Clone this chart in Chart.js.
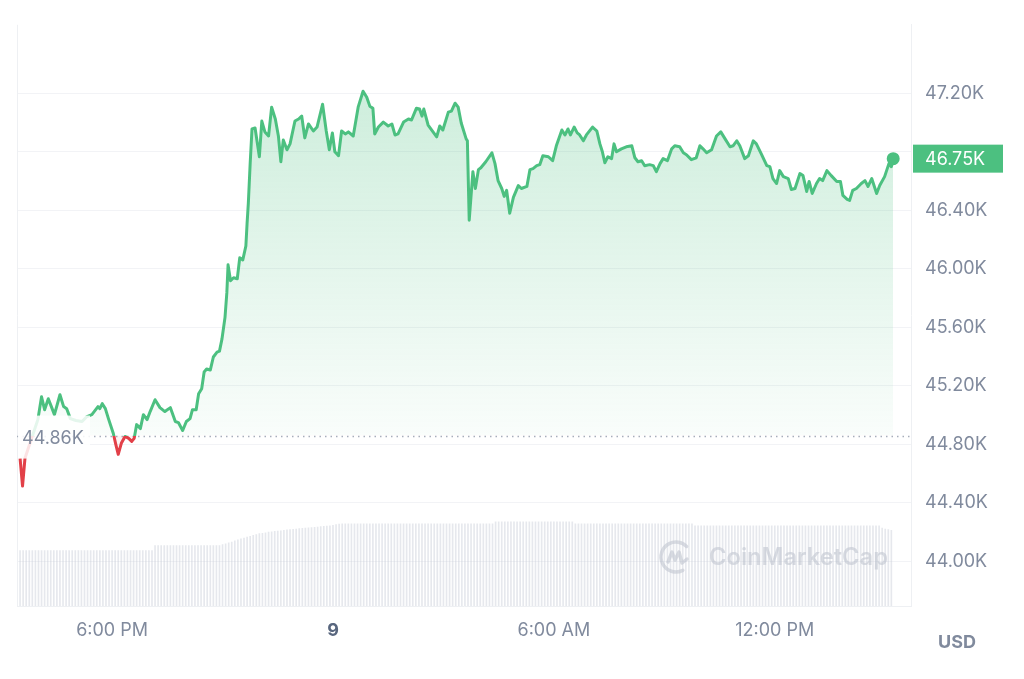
<!DOCTYPE html>
<html><head><meta charset="utf-8">
<script src="https://cdn.jsdelivr.net/npm/chart.js@4.4.1/dist/chart.umd.min.js"></script>
<style>html,body{margin:0;padding:0;background:#fff;overflow:hidden}canvas{display:block}</style>
</head><body>
<canvas id="c" width="1024" height="679"></canvas>
<script>
// time in minutes after 00:00 of the 8th (so 1440 = start of the 9th)
const priceTimes = [
930,934,938,959,965,970,976,981,986,995,
1001,1006,1012,1021,1031,1039,1047,1057,1060,1064,
1069,1074,1082,1086,1090,1095,1101,1107,1112,1116,
1120,1126,1131,1137,1142,1150,1158,1166,1175,1183,
1188,1195,1201,1207,1211,1217,1221,1226,1230,1234,
1240,1245,1251,1255,1259,1264,1267,1269,1273,1278,
1284,1288,1293,1298,1300,1302,1305,1308,1313,1320,
1324,1329,1335,1340,1346,1351,1355,1359,1365,1370,
1378,1384,1389,1394,1400,1408,1414,1423,1429,1434,
1439,1443,1449,1454,1460,1465,1473,1481,1489,1495,
1500,1505,1508,1514,1522,1530,1536,1541,1546,1555,
1563,1568,1576,1581,1585,1588,1595,1603,1609,1614,
1619,1628,1633,1639,1644,1649,1657,1659,1662,1668,
1672,1677,1681,1689,1699,1704,1709,1715,1719,1723,
1728,1734,1742,1747,1756,1761,1766,1772,1777,1782,
1791,1798,1804,1813,1818,1823,1827,1833,1838,1842,
1848,1853,1863,1870,1875,1879,1883,1888,1894,1898,
1902,1910,1918,1927,1932,1937,1943,1948,1956,1962,
1967,1973,1978,1985,1992,1997,2005,2011,2016,2024,
2032,2038,2043,2049,2057,2065,2072,2079,2087,2092,
2098,2103,2111,2117,2125,2130,2138,2147,2152,2157,
2163,2168,2174,2182,2187,2193,2201,2206,2212,2216,
2221,2228,2233,2238,2245,2252,2261,2267,2271,2278,
2282,2287,2293,2301,2307,2312,2318,2326,2331,2339,
2346,2350,2353];

// price in USD
const prices = [
44705,44515,44705,44969,45125,45037,45112,45058,45003,45139,
45058,45044,44976,44963,44956,44990,45003,45058,45044,45078,
45044,44976,44874,44800,44732,44807,44854,44841,44820,44841,
44935,44908,45003,44969,45024,45105,45051,45024,45051,44956,
44949,44895,44956,44976,45037,45037,45146,45180,45295,45315,
45308,45397,45430,45437,45519,45668,45837,46027,45919,45939,
45932,46075,46061,46156,46312,46447,46719,46956,46963,46766,
47010,46936,46908,47105,47024,46908,46732,46881,46814,46854,
47010,47024,47044,46895,46990,46942,46969,47125,46942,46814,
46929,46800,46773,46942,46922,46936,46908,47105,47214,47173,
47112,47098,46922,46969,47003,46976,46990,46915,46922,47003,
47024,47017,47098,47092,47044,47092,46983,46936,46902,46976,
46949,47071,47078,47132,47105,46997,46888,46875,46332,46664,
46549,46678,46691,46732,46793,46719,46603,46549,46495,46536,
46380,46488,46569,46549,46563,46678,46685,46705,46712,46773,
46766,46739,46841,46949,46915,46956,46915,46969,46929,46915,
46875,46915,46969,46942,46854,46800,46725,46766,46753,46854,
46800,46820,46834,46841,46759,46732,46739,46705,46712,46705,
46664,46719,46753,46739,46820,46841,46834,46793,46780,46746,
46759,46841,46820,46793,46814,46908,46936,46888,46834,46841,
46875,46841,46753,46773,46875,46854,46786,46705,46698,46617,
46583,46671,46630,46617,46542,46549,46651,46637,46529,46597,
46515,46583,46617,46603,46671,46637,46597,46597,46502,46475,
46468,46536,46549,46583,46603,46563,46617,46515,46569,46630,
46719,46698,46753];

// volume bars: 5-minute samples (minutes after 00:00 of the 8th)
const volumeTimes = [
930,935,940,945,950,955,960,965,970,975,980,985,
990,995,1000,1005,1010,1015,1020,1025,1030,1035,1040,1045,
1050,1055,1060,1065,1070,1075,1080,1085,1090,1095,1100,1105,
1110,1115,1120,1125,1130,1135,1140,1145,1150,1155,1160,1165,
1170,1175,1180,1185,1190,1195,1200,1205,1210,1215,1220,1225,
1230,1235,1240,1245,1250,1255,1260,1265,1270,1275,1280,1285,
1290,1295,1300,1305,1310,1315,1320,1325,1330,1335,1340,1345,
1350,1355,1360,1365,1370,1375,1380,1385,1390,1395,1400,1405,
1410,1415,1420,1425,1430,1435,1440,1445,1450,1455,1460,1465,
1470,1475,1480,1485,1490,1495,1500,1505,1510,1515,1520,1525,
1530,1535,1540,1545,1550,1555,1560,1565,1570,1575,1580,1585,
1590,1595,1600,1605,1610,1615,1620,1625,1630,1635,1640,1645,
1650,1655,1660,1665,1670,1675,1680,1685,1690,1695,1700,1705,
1710,1715,1720,1725,1730,1735,1740,1745,1750,1755,1760,1765,
1770,1775,1780,1785,1790,1795,1800,1805,1810,1815,1820,1825,
1830,1835,1840,1845,1850,1855,1860,1865,1870,1875,1880,1885,
1890,1895,1900,1905,1910,1915,1920,1925,1930,1935,1940,1945,
1950,1955,1960,1965,1970,1975,1980,1985,1990,1995,2000,2005,
2010,2015,2020,2025,2030,2035,2040,2045,2050,2055,2060,2065,
2070,2075,2080,2085,2090,2095,2100,2105,2110,2115,2120,2125,
2130,2135,2140,2145,2150,2155,2160,2165,2170,2175,2180,2185,
2190,2195,2200,2205,2210,2215,2220,2225,2230,2235,2240,2245,
2250,2255,2260,2265,2270,2275,2280,2285,2290,2295,2300,2305,
2310,2315,2320,2325,2330,2335,2340,2345,2350];

// volume (billions USD), one value per volume sample
const volumeB = [
19.1,19.1,19.1,19.1,19.1,19.1,19.1,19.1,19.1,19.1,19.1,19.1,
19.1,19.1,19.1,19.1,19.1,19.1,19.1,19.1,19.1,19.1,19.1,19.1,
19.1,19.1,19.1,19.1,19.1,19.1,19.1,19.1,19.1,19.1,19.1,19.1,
19.1,19.1,19.1,19.1,19.1,19.1,19.1,19.1,20.8,20.8,20.8,20.8,
20.8,20.8,20.8,20.8,20.8,20.8,20.8,20.8,20.8,20.8,20.8,20.8,
20.8,20.8,20.8,20.8,20.8,20.8,21.1,21.4,21.7,22.0,22.4,22.8,
23.1,23.4,23.7,24.0,24.3,24.6,24.9,25.0,25.2,25.4,25.5,25.7,
25.8,25.9,26.0,26.2,26.3,26.4,26.5,26.6,26.7,26.8,26.9,27.0,
27.1,27.2,27.3,27.4,27.5,27.6,27.8,28.0,28.2,28.3,28.3,28.3,
28.3,28.3,28.3,28.3,28.3,28.3,28.3,28.3,28.3,28.3,28.3,28.3,
28.3,28.3,28.3,28.3,28.3,28.3,28.3,28.3,28.3,28.3,28.3,28.3,
28.3,28.3,28.3,28.3,28.3,28.3,28.3,28.3,28.3,28.3,28.3,28.3,
28.3,28.3,28.3,28.3,28.3,28.3,28.3,28.3,28.3,28.3,28.3,29.0,
29.0,29.0,29.0,29.0,29.0,29.0,29.0,29.0,29.0,29.0,29.0,29.0,
29.0,29.0,29.0,29.0,29.0,29.0,29.0,29.0,29.0,29.0,29.0,29.0,
29.0,28.3,28.3,28.3,28.3,28.3,28.3,28.3,28.3,28.3,28.3,28.3,
28.3,28.3,28.3,28.3,28.3,28.3,28.3,28.3,28.3,28.3,28.3,28.3,
28.3,28.3,28.3,28.3,28.3,28.3,28.3,28.3,28.3,28.3,28.3,28.3,
28.3,28.3,28.3,28.3,27.6,27.6,27.6,27.6,27.6,27.6,27.6,27.6,
27.6,27.6,27.6,27.6,27.6,27.6,27.6,27.6,27.6,27.6,27.6,27.6,
27.6,27.6,27.6,27.6,27.6,27.6,27.6,27.6,27.6,27.6,27.6,27.6,
27.6,27.6,27.6,27.6,27.6,27.6,27.6,27.6,27.6,27.6,27.6,27.6,
27.6,27.6,27.6,27.6,27.6,27.6,27.6,27.6,27.6,27.6,27.6,27.6,
27.6,27.6,27.6,27.6,27.6,26.8,26.5,26.3,26.0];

const xTickValues = [1080, 1440, 1800, 2160];
const xTickLabels = ['6:00 PM', '9', '6:00 AM', '12:00 PM'];
const yTickValues = [44000, 44400, 44800, 45200, 45600, 46000, 46400, 46800, 47200];
const baselinePrice = 44860;
const baselineLabel = '44.86K';
const currentLabel = '46.75K';
const currencyLabel = 'USD';
const watermark = 'CoinMarketCap';

const GREEN = 'rgb(76,192,128)';
const RED = 'rgb(226,64,72)';
const GREY = '#808a9d';
const FONT = 'Inter, "Noto Sans", sans-serif';
const FS = 18;

function lineStroke(context) {
  const chart = context.chart;
  const a = chart.chartArea;
  if (!a) return GREEN;
  const yb = chart.scales.y.getPixelForValue(baselinePrice);
  const g = chart.ctx.createLinearGradient(0, a.top, 0, a.bottom);
  const s = Math.min(1, Math.max(0, (yb - a.top) / (a.bottom - a.top)));
  g.addColorStop(0, GREEN); g.addColorStop(s, GREEN);
  g.addColorStop(s, RED); g.addColorStop(1, RED);
  return g;
}
function fillShade(context) {
  const chart = context.chart;
  const a = chart.chartArea;
  if (!a) return 'rgba(76,192,128,0.15)';
  const yb = chart.scales.y.getPixelForValue(baselinePrice);
  const g = chart.ctx.createLinearGradient(0, a.top + 60, 0, yb);
  g.addColorStop(0, 'rgba(76,192,128,0.28)');
  g.addColorStop(1, 'rgba(76,192,128,0.03)');
  return g;
}

const overlay = {
  id: 'overlay',
  beforeDatasetsDraw(chart) {
    const {ctx, chartArea: a, scales: {y}} = chart;
    ctx.save();
    ctx.strokeStyle = '#eef0f3'; ctx.lineWidth = 1;
    ctx.beginPath(); ctx.moveTo(a.left + 0.5, a.top); ctx.lineTo(a.left + 0.5, a.bottom); ctx.stroke();
    // watermark
    ctx.fillStyle = 'rgba(165,172,185,0.42)';
    ctx.strokeStyle = 'rgba(165,172,185,0.42)';
    const cx = 676, cy = 557;
    ctx.lineWidth = 3.5; ctx.lineCap = 'round'; ctx.lineJoin = 'round';
    ctx.beginPath(); ctx.arc(cx, cy, 15, 0.35 * Math.PI, 1.75 * Math.PI); ctx.stroke();
    ctx.beginPath();
    ctx.moveTo(cx - 8, cy + 5); ctx.lineTo(cx - 4, cy - 5); ctx.lineTo(cx - 1, cy + 3);
    ctx.lineTo(cx + 3, cy - 5); ctx.lineTo(cx + 6, cy + 6); ctx.lineTo(cx + 11, cy + 2);
    ctx.stroke();
    ctx.font = '600 22px ' + FONT;
    const w = ctx.measureText(watermark).width;
    const size = 22 * 179 / w;
    ctx.font = '600 ' + size.toFixed(1) + 'px ' + FONT;
    ctx.textBaseline = 'middle'; ctx.textAlign = 'left';
    ctx.fillText(watermark, 709, cy + 1);
    // dotted baseline
    const yb = Math.round(y.getPixelForValue(baselinePrice)) + 0.5;
    ctx.strokeStyle = '#a7aebb'; ctx.lineWidth = 1.5; ctx.lineCap = 'butt';
    ctx.setLineDash([1.5, 4]);
    ctx.beginPath(); ctx.moveTo(a.left, yb); ctx.lineTo(a.right, yb); ctx.stroke();
    ctx.restore();
  },
  afterDatasetsDraw(chart) {
    const {ctx, chartArea: a, scales: {y}} = chart;
    const yb = y.getPixelForValue(baselinePrice);
    ctx.save();
    ctx.fillStyle = 'rgba(255,255,255,0.85)';
    ctx.fillRect(a.left + 1, yb - 20, 72, 43);
    ctx.font = FS + 'px ' + FONT;
    ctx.fillStyle = GREY; ctx.textBaseline = 'middle'; ctx.textAlign = 'left';
    ctx.fillText(baselineLabel, 22, yb + 3);
    ctx.restore();
  },
  afterDraw(chart) {
    const {ctx, chartArea: a, scales: {y}} = chart;
    const last = prices[prices.length - 1];
    const yl = y.getPixelForValue(last);
    ctx.save();
    ctx.fillStyle = GREEN;
    ctx.fillRect(a.right + 2, yl - 14, 90, 28);
    ctx.font = FS + 'px ' + FONT;
    ctx.fillStyle = '#ffffff'; ctx.textBaseline = 'middle'; ctx.textAlign = 'left';
    ctx.fillText(currentLabel, a.right + 14, yl + 1);
    ctx.font = 'bold ' + FS + 'px ' + FONT;
    ctx.fillStyle = GREY; ctx.textAlign = 'center';
    ctx.fillText(currencyLabel, 957, 643);
    ctx.restore();
  }
};

new Chart(document.getElementById('c'), {
  data: {
    datasets: [
      {
        type: 'line',
        data: priceTimes.map((t, i) => ({x: t, y: prices[i]})),
        yAxisID: 'y',
        borderWidth: 3,
        borderColor: lineStroke,
        backgroundColor: fillShade,
        fill: {target: {value: baselinePrice}, below: 'rgba(226,64,72,0.06)'},
        pointRadius: ctx => ctx.dataIndex === prices.length - 1 ? 5.5 : 0,
        pointHoverRadius: 0,
        pointBackgroundColor: GREEN,
        pointBorderColor: GREEN,
        pointBorderWidth: 2,
        tension: 0,
        borderJoinStyle: 'round',
        order: 0
      },
      {
        type: 'bar',
        data: volumeTimes.map((t, i) => ({x: t, y: volumeB[i]})),
        yAxisID: 'yVol',
        backgroundColor: 'rgba(195,200,212,0.42)',
        barThickness: 1,
        order: 1
      }
    ]
  },
  options: {
    responsive: false,
    animation: false,
    devicePixelRatio: 1,
    layout: {padding: {left: 17, top: 20, right: 0, bottom: 0}},
    plugins: {legend: {display: false}, tooltip: {enabled: false}},
    scales: {
      x: {
        type: 'linear',
        offset: false,
        min: 925, max: 2382,
        afterBuildTicks: s => { s.ticks = xTickValues.map(v => ({value: v})); },
        afterFit: s => { s.height = 73; },
        ticks: {
          autoSkip: false, maxRotation: 0, padding: 14,
          callback: v => { const i = xTickValues.indexOf(v); return i >= 0 ? xTickLabels[i] : ''; },
          color: c => (c.tick && c.tick.value === 1440) ? '#58667e' : GREY,
          font: c => ({family: FONT, size: FS, weight: (c.tick && c.tick.value === 1440) ? 'bold' : 'normal'})
        },
        grid: {display: false, drawTicks: false, offset: false},
        border: {display: true, color: '#eef0f3'}
      },
      y: {
        position: 'right',
        min: 43695, max: 47668,
        afterBuildTicks: s => { s.ticks = yTickValues.map(v => ({value: v})); },
        afterFit: s => { s.width = 113; },
        ticks: {
          padding: 14,
          color: GREY,
          font: {family: FONT, size: FS},
          callback: v => v === 46800 ? '' : (v / 1000).toFixed(2) + 'K'
        },
        grid: {color: '#f2f3f6', drawTicks: false},
        border: {display: true, color: '#eef0f3'}
      },
      yVol: {display: false, min: 0, max: 200}
    }
  },
  plugins: [overlay]
});
</script>
</body></html>
